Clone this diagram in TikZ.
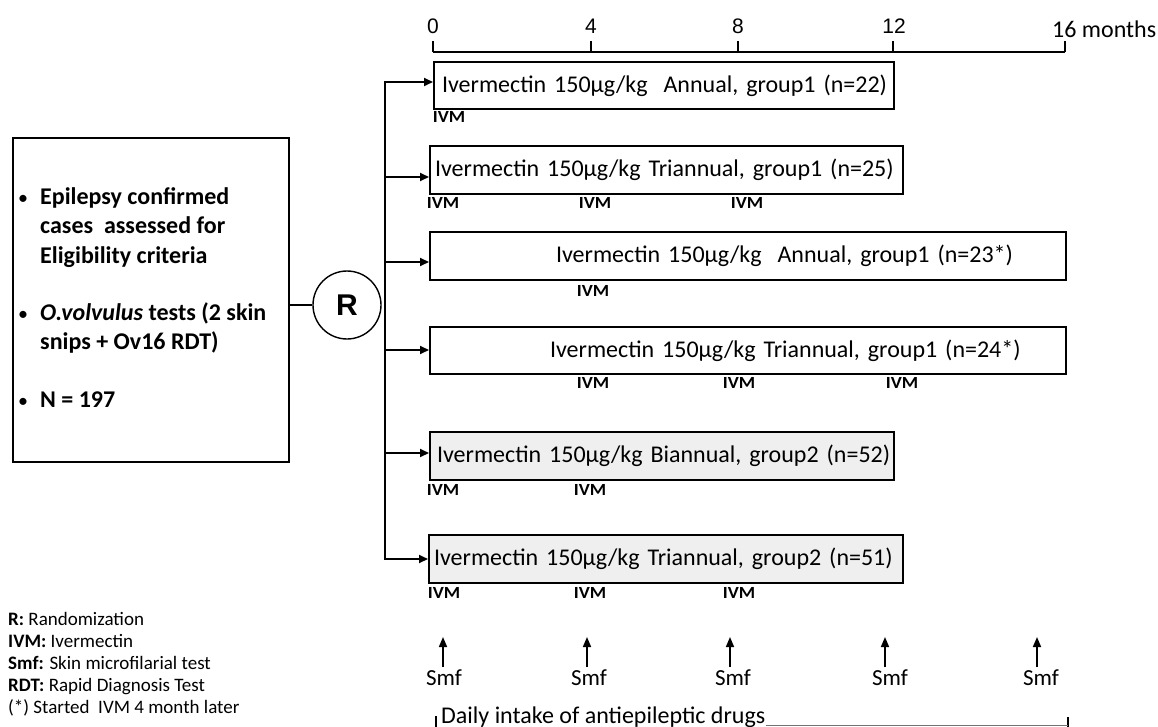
\documentclass[tikz,border=0pt]{standalone}
\usepackage{fontspec}
\usepackage{graphicx}
\setmainfont{Carlito}
\newfontfamily\arialfont{Liberation Sans}
\usetikzlibrary{arrows.meta}
\definecolor{grpfill}{HTML}{EFEFEF}
\tikzset{
  box/.style={draw, line width=2pt, anchor=north west, inner xsep=0pt, inner ysep=0pt,
    align=left, font=\fontsize{24}{28}\selectfont},
  grptwo/.style={fill=grpfill},
  ivm/.style={inner sep=0pt, font=\fontsize{17}{19}\selectfont\bfseries},
  conn/.style={line width=2pt, line join=miter, -{Triangle[length=9pt,width=8pt]}},
  smfarr/.style={line width=1.6pt, -{Triangle[length=10pt,width=8pt]}},
  smflabel/.style={inner sep=0pt, anchor=base, font=\fontsize{23}{26}\selectfont},
  bul/.style={inner sep=0pt, anchor=base west, font=\fontsize{24}{29}\selectfont\bfseries},
  legend/.style={inner sep=0pt, anchor=base west, font=\fontsize{19}{21}\selectfont},
  digit/.style={inner sep=0pt, anchor=base, font=\arialfont\fontsize{21}{23}\selectfont},
  axisline/.style={line width=2pt},
}
\newcommand{\ivmtxt}{\scalebox{1.1}[1]{IVM}}
\newcommand{\bulletmark}{\makebox[23pt][l]{\hspace*{1pt}{\mdseries\fontsize{20}{20}\selectfont •}}}
\begin{document}
\begin{tikzpicture}[x=1pt,y=-1pt]
\useasboundingbox (0,0) rectangle (1158,727);

% time axis
\coordinate (m0) at (433,52);
\coordinate (m4) at (591,52);
\coordinate (m8) at (738,52);
\coordinate (m12) at (893,52);
\coordinate (m16) at (1065,52);
\draw[axisline] (m0) -- (m16);
\foreach \m in {m0,m4,m8,m12,m16} \draw[axisline] (\m) -- ++(0,-11);
\node[digit] (d0) at (433,34) {0};
\node[digit] (d4) at (591,34) {4};
\node[digit] (d8) at (738,34) {8};
\node[digit] (d12) at (894,34) {12};
\node[inner sep=0pt, anchor=base west, font=\fontsize{24}{28}\selectfont] (d16) at (1052,38) {16 months};

% eligibility box
\node[draw, line width=2pt, anchor=north west, minimum width=276pt, minimum height=324pt, inner sep=0pt] (elig) at (12,137) {};
\node[bul] (e1) at (17,205) {\bulletmark Epilepsy confirmed};
\node[bul] (e2) at (40,234) {cases\ \ assessed for};
\node[bul] (e3) at (40,263) {Eligibility criteria};
\node[bul] (e4) at (17,320) {\bulletmark\textit{O.volvulus} tests (2 skin};
\node[bul] (e5) at (40,349) {snips + Ov16 RDT)};
\node[bul] (e6) at (17,407) {\bulletmark N = 197};

% randomization
\node[draw, circle, line width=1.4pt, minimum size=68pt, inner sep=0pt,
  font=\arialfont\bfseries\fontsize{30}{30}\selectfont] (R) at (347,305) {R};
\draw[line width=1.4pt] (elig.east |- R.west) -- (R.west);

% arms
\node[box, text width=460pt, minimum height=47pt] (b1) at (433,61)
  {\hspace*{8pt}Ivermectin 150µg/kg\ \ Annual, group1 (n=22)};
\node[box, text width=473pt, minimum height=48pt] (b2) at (429,145)
  {\hspace*{5pt}Ivermectin 150µg/kg Triannual, group1 (n=25)};
\node[box, text width=636pt, minimum height=48pt] (b3) at (429,231)
  {\hspace*{126pt}Ivermectin 150µg/kg\ \ Annual, group1 (n=23*)};
\node[box, text width=636pt, minimum height=47pt] (b4) at (429,326)
  {\hspace*{120pt}Ivermectin 150µg/kg Triannual, group1 (n=24*)};
\node[box, grptwo, text width=464pt, minimum height=48pt] (b5) at (429,431)
  {\hspace*{7pt}Ivermectin 150µg/kg Biannual, group2 (n=52)};
\node[box, grptwo, text width=474pt, minimum height=48pt] (b6) at (428,534)
  {\hspace*{5pt}Ivermectin 150µg/kg Triannual, group2 (n=51)};

% trunk and arrows
\coordinate (t1) at (385,82);
\coordinate (t2) at (385,177);
\coordinate (t3) at (385,262);
\coordinate (t4) at (385,350);
\coordinate (t5) at (385,453);
\coordinate (t6) at (385,559);
\draw[conn] (t6) -- (t1) -- (t1 -| b1.west);
\draw[conn] (t1) -- (t6) -- (t6 -| b6.west);
\draw[conn] (t2) -- (t2 -| b2.west);
\draw[conn] (t3) -- (t3 -| b3.west);
\draw[conn] (t4) -- (t4 -| b4.west);
\draw[conn] (t5) -- (t5 -| b5.west);

% IVM marks
\node[ivm] (i11) at (449,117) {\ivmtxt};
\node[ivm] (i21) at (443,203) {\ivmtxt};
\node[ivm] (i22) at (595,203) {\ivmtxt};
\node[ivm] (i23) at (747,203) {\ivmtxt};
\node[ivm] (i31) at (593,291) {\ivmtxt};
\node[ivm] (i41) at (593,383) {\ivmtxt};
\node[ivm] (i42) at (739,383) {\ivmtxt};
\node[ivm] (i43) at (902,383) {\ivmtxt};
\node[ivm] (i51) at (443,490) {\ivmtxt};
\node[ivm] (i52) at (590,490) {\ivmtxt};
\node[ivm] (i61) at (444,593) {\ivmtxt};
\node[ivm] (i62) at (590,593) {\ivmtxt};
\node[ivm] (i63) at (739,593) {\ivmtxt};

% Smf
\node[smflabel] (s0) at (444,685) {Smf};
\node[smflabel] (s1) at (589,685) {Smf};
\node[smflabel] (s2) at (733,685) {Smf};
\node[smflabel] (s3) at (890,685) {Smf};
\node[smflabel] (s4) at (1041,685) {Smf};
\coordinate (a0) at (443,667);
\coordinate (a1) at (587,667);
\coordinate (a2) at (730,667);
\coordinate (a3) at (885,667);
\coordinate (a4) at (1037,667);
\foreach \a in {a0,a1,a2,a3,a4} \draw[smfarr] (\a) -- ++(0,-30);

% daily intake bracket
\node[inner sep=0pt, anchor=base west, font=\fontsize{24}{28}\selectfont] (daily) at (441,723) {Daily intake of antiepileptic drugs};
\coordinate (bl) at (436,716);
\coordinate (br) at (1068,717);
\draw[line width=1.8pt] (bl) -- ++(0,12);
\draw[line width=1.8pt] (br) -- ++(0,11);
\draw[line width=1.5pt, black!55] (daily.east |- br) ++(0,8.5) -- ([yshift=-8.5pt]br);

% legend
\node[legend] (l1) at (8,625) {\textbf{R:} Randomization};
\node[legend] (l2) at (8,647) {\textbf{IVM:} Ivermectin};
\node[legend] (l3) at (8,669) {\textbf{Smf:} Skin microfilarial test};
\node[legend] (l4) at (8,691) {\textbf{RDT:} Rapid Diagnosis Test};
\node[legend] (l5) at (8,713) {(*) Started\ \ IVM 4 month later};
\end{tikzpicture}
\end{document}
